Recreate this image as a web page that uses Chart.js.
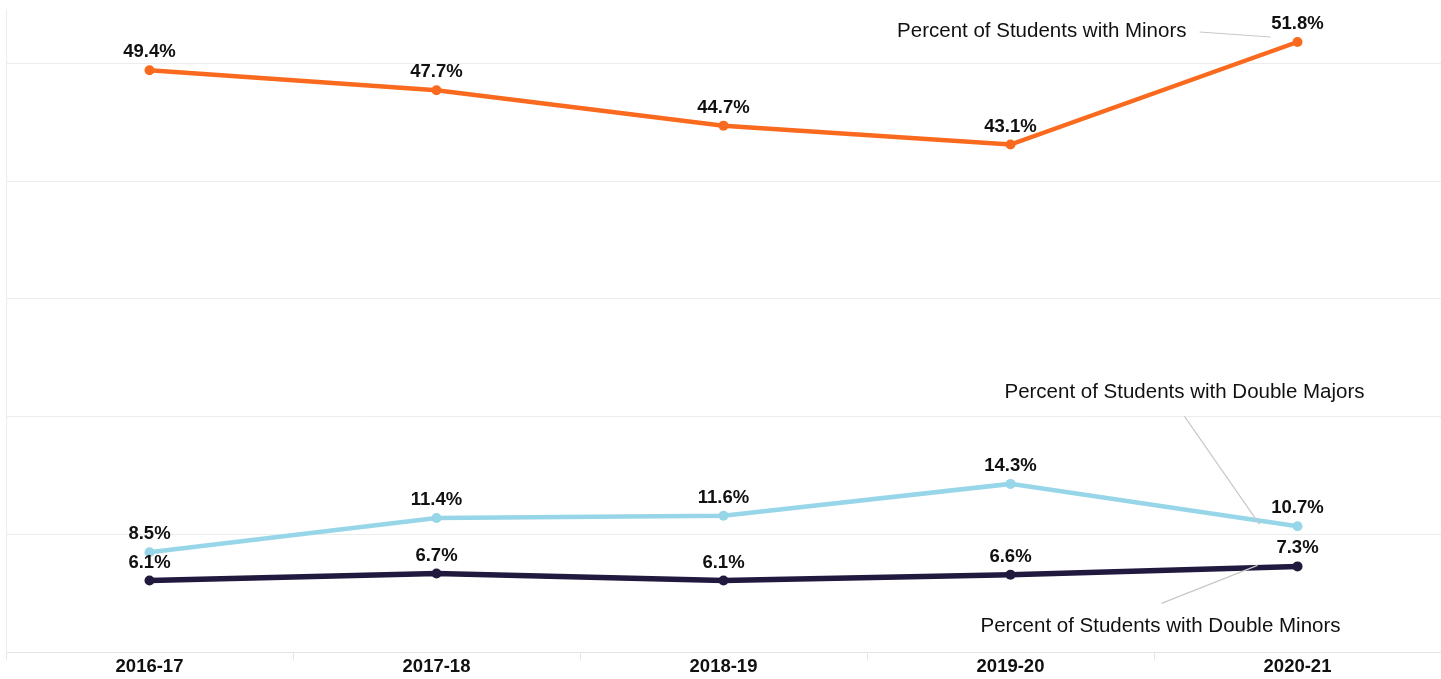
<!DOCTYPE html>
<html>
<head>
<meta charset="utf-8">
<script src="https://cdn.jsdelivr.net/npm/chart.js@4.4.1/dist/chart.umd.min.js"></script>
<style>
  html, body { margin: 0; padding: 0; background: #ffffff; }
  #wrap { width: 1441px; height: 679px; position: relative; }
</style>
</head>
<body>
<div id="wrap"><canvas id="c" width="1441" height="679"></canvas></div>
<script>
// ---- data ----
const categories = ['2016-17', '2017-18', '2018-19', '2019-20', '2020-21'];
const seriesNames = [
  'Percent of Students with Minors',
  'Percent of Students with Double Majors',
  'Percent of Students with Double Minors'
];
const minorsPct = [49.4, 47.7, 44.7, 43.1, 51.8];
const doubleMajorsPct = [8.5, 11.4, 11.6, 14.3, 10.7];
const doubleMinorsPct = [6.1, 6.7, 6.1, 6.6, 7.3];

// ---- styles ----
const FONT = '"Liberation Sans", Arial, Helvetica, sans-serif';
const colors = ['#FA6A1E', '#97D5E9', '#22193F'];
const widths = [4.5, 4.5, 5.5];
// annotation placement relative to the last point of each series
const annot = [
  { tdx: -111, tdy: -11, align: 'right', l1: [-98, -10], l2: [-27, -5] },
  { tdx: -113, tdy: -134, align: 'center', l1: [-113, -110], l2: [-38, -2] },
  { tdx: -137, tdy: 60, align: 'center', l1: [-136, 37], l2: [-40, -1] }
];

const valueLabels = {
  id: 'valueLabels',
  afterDatasetsDraw(chart) {
    const ctx = chart.ctx;
    ctx.save();
    ctx.font = 'bold 18.5px ' + FONT;
    ctx.fillStyle = '#111111';
    ctx.textAlign = 'center';
    ctx.textBaseline = 'middle';
    chart.data.datasets.forEach((ds, i) => {
      const meta = chart.getDatasetMeta(i);
      meta.data.forEach((pt, j) => {
        ctx.fillText(ds.data[j].toFixed(1) + '%', pt.x, pt.y - 18);
      });
    });
    ctx.restore();
  },
  afterDraw(chart) {
    const ctx = chart.ctx;
    ctx.save();
    chart.data.datasets.forEach((ds, i) => {
      const meta = chart.getDatasetMeta(i);
      const last = meta.data[meta.data.length - 1];
      const a = annot[i];
      ctx.strokeStyle = '#c8c8c8';
      ctx.lineWidth = 1.2;
      ctx.beginPath();
      ctx.moveTo(last.x + a.l1[0], last.y + a.l1[1]);
      ctx.lineTo(last.x + a.l2[0], last.y + a.l2[1]);
      ctx.stroke();
      ctx.font = '20.5px ' + FONT;
      ctx.fillStyle = '#111111';
      ctx.textAlign = a.align;
      ctx.textBaseline = 'middle';
      ctx.fillText(ds.label, last.x + a.tdx, last.y + a.tdy);
    });
    ctx.restore();
  }
};

const datasets = [minorsPct, doubleMajorsPct, doubleMinorsPct].map((arr, i) => ({
  label: seriesNames[i],
  data: arr,
  borderColor: colors[i],
  backgroundColor: colors[i],
  borderWidth: widths[i],
  pointRadius: 5,
  pointHoverRadius: 5,
  pointBorderWidth: 0,
  pointBackgroundColor: colors[i],
  tension: 0,
  fill: false,
  clip: false
}));

new Chart(document.getElementById('c'), {
  type: 'line',
  data: { labels: categories, datasets: datasets },
  options: {
    responsive: false,
    animation: false,
    layout: { autoPadding: false, padding: { left: 6, top: 9, right: 0, bottom: 6.4 } },
    plugins: { legend: { display: false }, tooltip: { enabled: false } },
    scales: {
      x: {
        offset: true,
        grid: {
          offset: true,
          drawOnChartArea: false,
          drawTicks: true,
          tickLength: 8,
          color: '#e6e6e6'
        },
        border: { display: true, color: '#e4e4e4', dash: [4, 2] },
        ticks: {
          padding: -5,
          color: '#111111',
          font: { family: FONT, size: 18.5, weight: 'bold', lineHeight: 1.2 }
        }
      },
      y: {
        min: 0,
        max: 54.6,
        ticks: { display: false, stepSize: 10 },
        grid: {
          drawTicks: false,
          tickLength: 0,
          color: (c) => (c.tick && c.tick.value > 0 && Math.abs(c.tick.value % 10) < 1e-6) ? '#ececec' : 'rgba(0,0,0,0)'
        },
        border: { display: true, color: '#ececec' }
      }
    }
  },
  plugins: [valueLabels]
});
</script>
</body>
</html>
